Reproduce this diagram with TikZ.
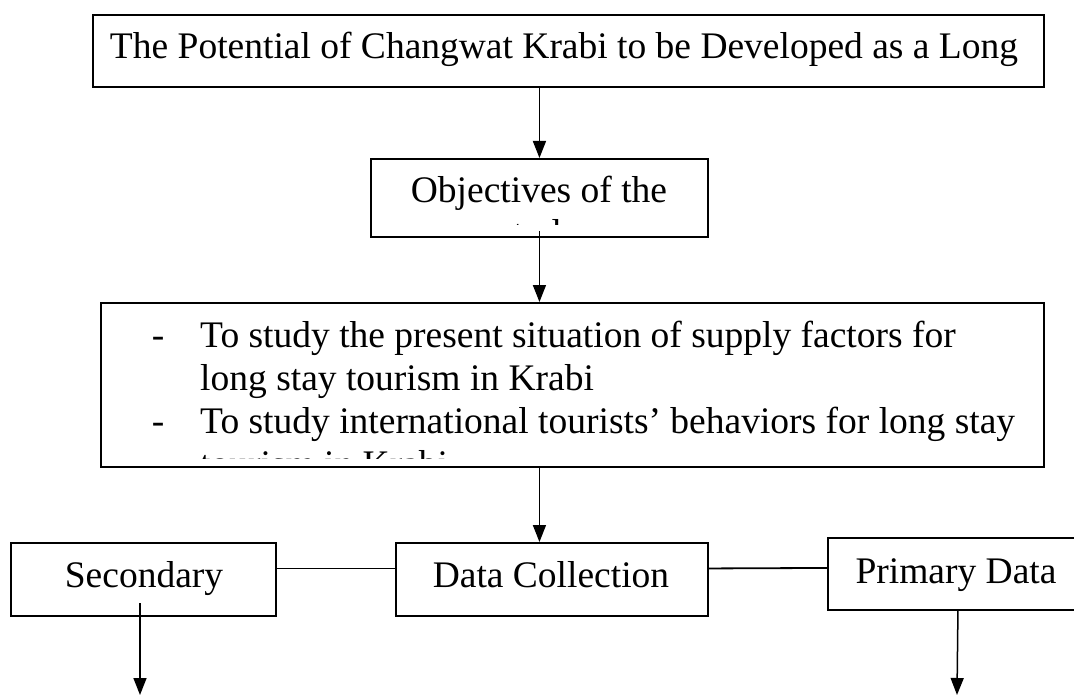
\documentclass[tikz,border=0pt]{standalone}
\usepackage{fontspec}
\setmainfont{Liberation Serif}
\usetikzlibrary{arrows.meta}
\begin{document}
\begin{tikzpicture}[x=1pt,y=-1pt,
  frame/.style={draw=black, line width=1.9pt, rectangle, inner sep=0pt, anchor=north west},
  txt/.style={inner sep=0pt, font=\fontsize{37.5}{43}\selectfont},
  flow/.style={draw=black, line width=1.5pt, -{Triangle[length=17pt,width=13pt]}},
  link/.style={draw=black, line width=1.8pt}]
\useasboundingbox (0,0) rectangle (1074,695);
\clip (0,0) rectangle (1074,695);

% boxes
\node[frame, minimum width=951pt, minimum height=72pt] (top) at (92,14) {};
\node[frame, minimum width=337pt, minimum height=78pt] (obj) at (370,158) {};
\node[frame, minimum width=943pt, minimum height=164pt] (aims) at (100,302) {};
\node[frame, minimum width=265pt, minimum height=73pt] (sec) at (10,542) {};
\node[frame, minimum width=312pt, minimum height=73pt] (data) at (395,542) {};
\node[frame, minimum width=260pt, minimum height=72pt] (prim) at (827,537) {};

% titles
\node[txt, anchor=base] (toptext) at (564,59) {The Potential of Changwat Krabi to be Developed as a Long};

% text boxes cut their overflowing lines off at the inner margin
\begin{scope}
  \clip (obj.north west) rectangle ([yshift=13pt]obj.south east);
  \node[txt, anchor=base] (objtext) at (539,203) {Objectives of the};
  \node[txt, anchor=base] (objtext2) at (539,246) {study};
\end{scope}

\begin{scope}
  \clip (aims.north west) rectangle ([yshift=9pt]aims.south east);
  \node[txt, anchor=base] (dashA) at (158,347) {-};
  \node[txt, anchor=base west] (aimA) at (200,347) {To study the present situation of supply factors for};
  \node[txt, anchor=base west] (aimA2) at (200,390) {long stay tourism in Krabi};
  \node[txt, anchor=base] (dashB) at (158,433) {-};
  \node[txt, anchor=base west] (aimB) at (200,433) {To study international tourists’ behaviors for long stay};
  \node[txt, anchor=base west] (aimB2) at (200,476) {tourism in Krabi};
\end{scope}

\node[txt, anchor=base] (sectext) at (144,587) {Secondary};
\node[txt, anchor=base] (datatext) at (551,587) {Data Collection};
\node[txt, anchor=base] (primtext) at (956,583) {Primary Data};

% connectors
\coordinate (secstem) at (140,603);
\coordinate (secfoot) at (140,695);
\coordinate (primfoot) at (957,695);

\draw[flow] (obj.north |- top.south) -- (obj.north);
\draw[flow] ([yshift=7pt]obj.south) -- (obj.south |- aims.north);
\draw[flow] (obj.south |- aims.south) -- (obj.south |- data.north);
\draw[link] ([yshift=11pt]sec.east) -- ([yshift=11pt]data.west);
\draw[link] ([yshift=11pt]data.east) -- ([yshift=6pt]prim.west);
\draw[flow] (secstem) -- (secfoot);
\draw[flow] (prim.south) -- (primfoot);
\end{tikzpicture}
\end{document}
